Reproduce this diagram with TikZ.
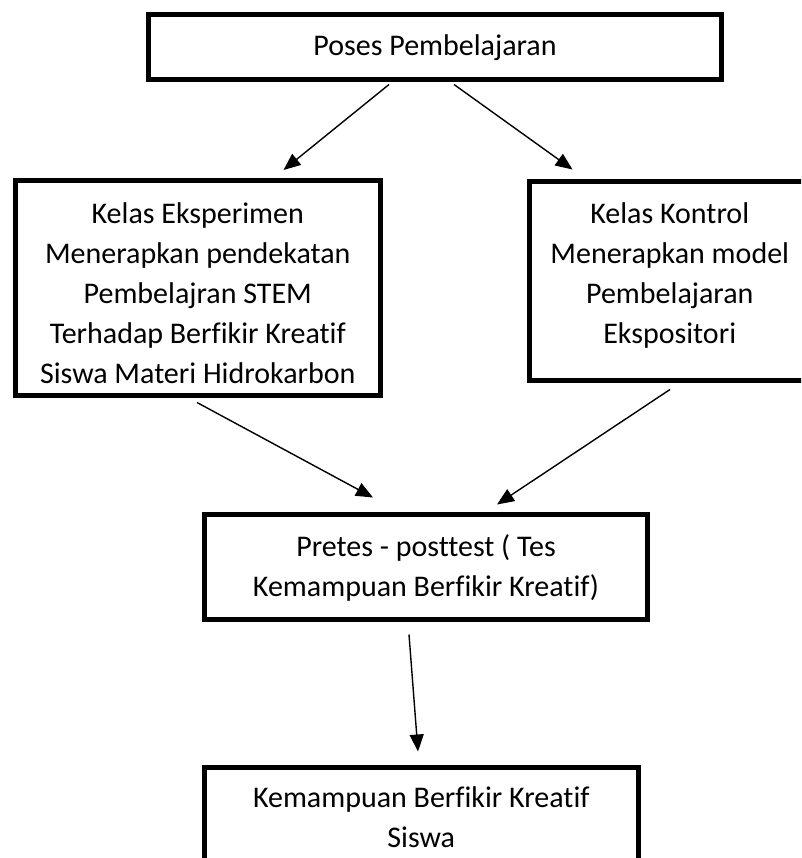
\documentclass[tikz,border=0pt]{standalone}
\usepackage{fontspec}
\setmainfont{Carlito}[Ligatures=NoCommon]
\usetikzlibrary{arrows.meta,calc}
\tikzset{
  box/.style={draw=black, line width=5pt, fill=white, inner sep=0pt, rectangle},
  txt/.style={align=center, inner sep=0pt, font=\fontsize{30}{40}\selectfont},
  arr/.style={line width=1.4pt, -{Triangle[length=17pt,width=14pt]}}
}
\begin{document}
\begin{tikzpicture}[x=1pt,y=-1pt]
\useasboundingbox (0,0) rectangle (801,858);
\clip (0,0) rectangle (801,858);
\fill[white] (0,0) rectangle (801,858);
% boxes
\node[box, minimum width=573pt, minimum height=64.5pt] (top) at (435,47.25) {};
\node[box, minimum width=364.5pt, minimum height=215pt] (left) at (197.75,288) {};
\node[box, minimum width=280.5pt, minimum height=199pt] (right) at (669.75,281) {};
\node[box, minimum width=443pt, minimum height=105pt] (mid) at (426,567) {};
\node[box, minimum width=433.5pt, minimum height=120pt] (bot) at (421.25,827.5) {};
% texts
\node[txt] (topt) at (435,48) {Poses Pembelajaran};
\node[txt] (leftt) at (197.75,293) {Kelas Eksperimen\\Menerapkan pendekatan\\Pembelajran STEM\\Terhadap Berfikir Kreatif\\Siswa Materi Hidrokarbon};
\node[txt] (rightt) at (669.75,276) {Kelas Kontrol\\Menerapkan model\\Pembelajaran\\Ekspositori};
\node[txt] (midt) at (426,568) {Pretes - posttest ( Tes\\Kemampuan Berfikir Kreatif)};
\node[txt] (bott) at (421.25,817) {Kemampuan Berfikir Kreatif\\Siswa};
% connectors
\draw[arr] ($(top.south)+(-46,2.5)$) -- ($(left.north)+(85.75,-8)$);
\draw[arr] ($(top.south)+(19,2.5)$) -- ($(right.north)+(-97.25,-9.5)$);
\draw[arr] ($(left.south)+(-0.75,4.5)$) -- ($(mid.north)+(-53,-14.5)$);
\draw[arr] ($(right.south)+(0.25,6.5)$) -- ($(mid.north)+(71,-7.5)$);
\draw[arr] ($(mid.south)+(-17,12.5)$) -- ($(bot.north)+(-3.25,-13.5)$);
\end{tikzpicture}
\end{document}
